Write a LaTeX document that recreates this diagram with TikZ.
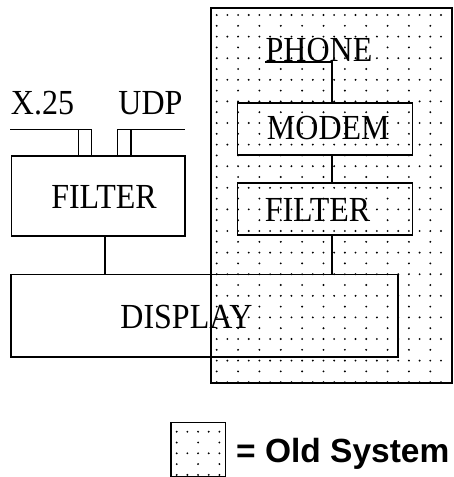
\documentclass[tikz,border=0pt]{standalone}
\usepackage{fontspec}
\setmainfont{Liberation Serif}
\newfontfamily\legendfont{Liberation Sans}
\usepackage{tikz}
\usetikzlibrary{positioning}

\tikzset{box/.style={draw,line width=1.5pt,inner sep=0pt},
lbl/.style={inner sep=0pt,font=\fontsize{32}{32}\selectfont},
wire/.style={line width=1.4pt}}
% dot screen: x0, y0, last column, last row
\newcommand\olddots[4]{%
\foreach \j in {0,...,#4}{\foreach \k in {0,...,#3}{%
\pgfmathparse{int(mod(\j,2)*mod(\k,2))}%
\ifnum\pgfmathresult=0 \fill(#1+\k*10.68,#2+\j*10.8)circle(1.05pt);\fi}}}
% the bitmap font has tall capitals
\newcommand\tall[1]{\scalebox{1}[1.1]{#1}}

\begin{document}
\begin{tikzpicture}[x=1pt,y=-1pt]
\useasboundingbox(0,0)rectangle(454,477);
%\fill[white](0,0)rectangle(454,477);
\olddots{216.7}{15}{21}{34}
\olddots{176.7}{431.7}{4}{4}
\node[box,minimum width=241,minimum height=375](oldsys)at(331.5,195.5){};
\node[box,minimum width=175,minimum height=52](modem)at(325,129){};
\node[box,minimum width=175,minimum height=52.3](rfilter)at(325,208.9){};
\node[box,minimum width=173.3,minimum height=80](lfilter)at(98.3,196){};
\node[box,minimum width=387,minimum height=82.5](display)at(204.5,315.8){};
\node[box,minimum width=54.7,minimum height=53.8](legend)at(198.3,449.6){};
% labels
\node[lbl](phonetxt)at(319,49.8){\tall{PHONE}};
\node[lbl](modemtxt)at(328.3,128.3){\tall{MODEM}};
\node[lbl](rfiltertxt)at(317.5,210){\tall{FILTER}};
\node[lbl](lfiltertxt)at(104,197){\tall{FILTER}};
\node[lbl](displaytxt)at(186.5,317){\tall{DISPLAY}};
\node[lbl](x25txt)at(42.5,103.3){\tall{X.25}};
\node[lbl](udptxt)at(150.5,103.3){\tall{UDP}};
\node[inner sep=0pt,anchor=base west,font=\legendfont\bfseries\fontsize{33.5}{33.5}\selectfont]
(legendtxt)at(236,462.7){= Old System};
% old system chain
\coordinate(rline)at(332,0);
\draw[wire](phonetxt.south west)--(phonetxt.south west-|rline)--(rline|-modem.north);
\draw[wire](rline|-modem.south)--(rline|-rfilter.north);
\draw[wire](rline|-rfilter.south)--(rline|-display.north);
% new filter and its buses
\coordinate(lline)at(105,0);
\draw[wire](lline|-lfilter.south)--(lline|-display.north);
\coordinate(x25w)at(10,129.3);
\coordinate(x25e)at(91.7,129.3);
\coordinate(udpw)at(117.3,129.3);
\coordinate(udpe)at(185,129.3);
\draw[wire](x25w)--(x25e);
\draw[wire](udpw)--(udpe);
\draw[wire](x25e)--(x25e|-lfilter.north)(78.3,129.3)--(78.3,0|-lfilter.north);
\draw[wire](udpw)--(udpw|-lfilter.north)(131,129.3)--(131,0|-lfilter.north);
\end{tikzpicture}
\end{document}
